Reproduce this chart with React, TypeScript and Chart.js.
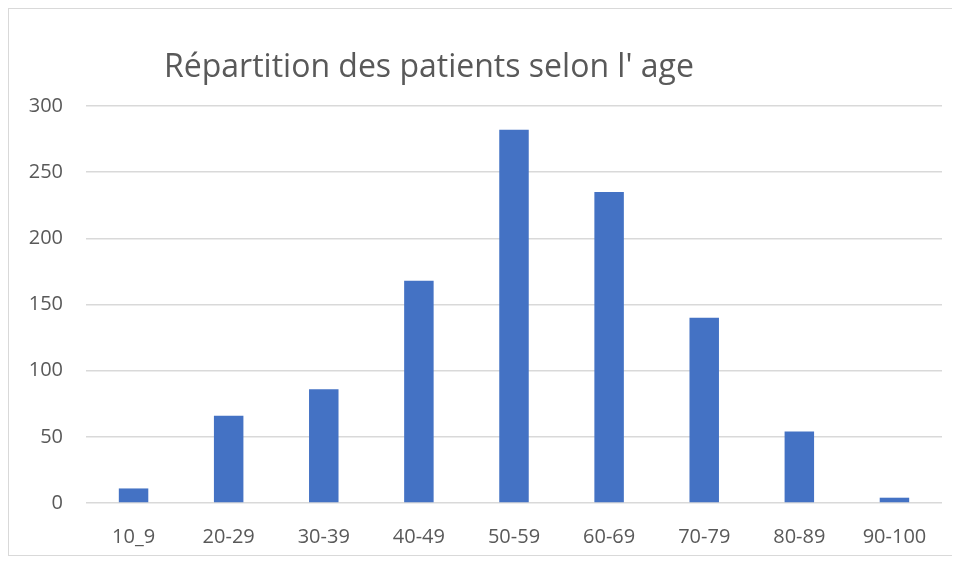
import React, { useEffect, useRef } from "react";
import { Chart, registerables } from "chart.js";

Chart.register(...registerables);

const titleText = "Répartition des patients selon l' age";
const categories = ["10_9", "20-29", "30-39", "40-49", "50-59", "60-69", "70-79", "80-89", "90-100"];
const patients = [11, 66, 86, 168, 282, 235, 140, 54, 4];
const yMax = 300;
const yStep = 50;

const textColor = "#595959";
const gridColor = "#d9d9d9";
const barColor = "#4472C4";
const fontFamily = "'Open Sans', 'Noto Sans', sans-serif";

const titlePlugin = {
  id: "leftTitle",
  afterDraw(chart: any) {
    const ctx = chart.ctx;
    ctx.save();
    ctx.font = `32px ${fontFamily}`;
    ctx.fillStyle = textColor;
    ctx.textAlign = "left";
    ctx.textBaseline = "alphabetic";
    ctx.fillText(titleText, 155, 68);
    ctx.restore();
  },
};

export default function App() {
  const ref = useRef<HTMLCanvasElement | null>(null);
  useEffect(() => {
    if (!ref.current) return;
    const chart = new Chart(ref.current, {
      type: "bar",
      data: {
        labels: categories,
        datasets: [
          {
            label: "Patients",
            data: patients,
            backgroundColor: barColor,
            borderWidth: 0,
            barPercentage: 0.62,
            categoryPercentage: 0.5,
          },
        ],
      },
      plugins: [titlePlugin],
      options: {
        animation: false,
        responsive: false,
        maintainAspectRatio: false,
        layout: { padding: { top: 97, right: 12, bottom: 0, left: 0 } },
        plugins: {
          legend: { display: false },
          title: { display: false },
          tooltip: { enabled: false },
        },
        scales: {
          x: {
            grid: { display: false },
            border: { display: false },
            ticks: {
              color: textColor,
              font: { family: fontFamily, size: 20 },
              padding: 14,
              maxRotation: 0,
              autoSkip: false,
            },
            afterFit(scale: any) {
              scale.height = 52;
            },
          },
          y: {
            min: 0,
            max: yMax,
            grid: { color: gridColor, lineWidth: 1.5, drawTicks: false },
            border: { display: false },
            ticks: {
              stepSize: yStep,
              color: textColor,
              font: { family: fontFamily, size: 20 },
              padding: 23,
            },
            afterFit(scale: any) {
              scale.width = 77;
            },
          },
        },
      },
    });
    return () => chart.destroy();
  }, []);
  return (
    <div style={{ width: 945, height: 546, border: "1px solid #d9d9d9", background: "#fff" }}>
      <canvas ref={ref} width={945} height={546} style={{ display: "block" }} />
    </div>
  );
}
